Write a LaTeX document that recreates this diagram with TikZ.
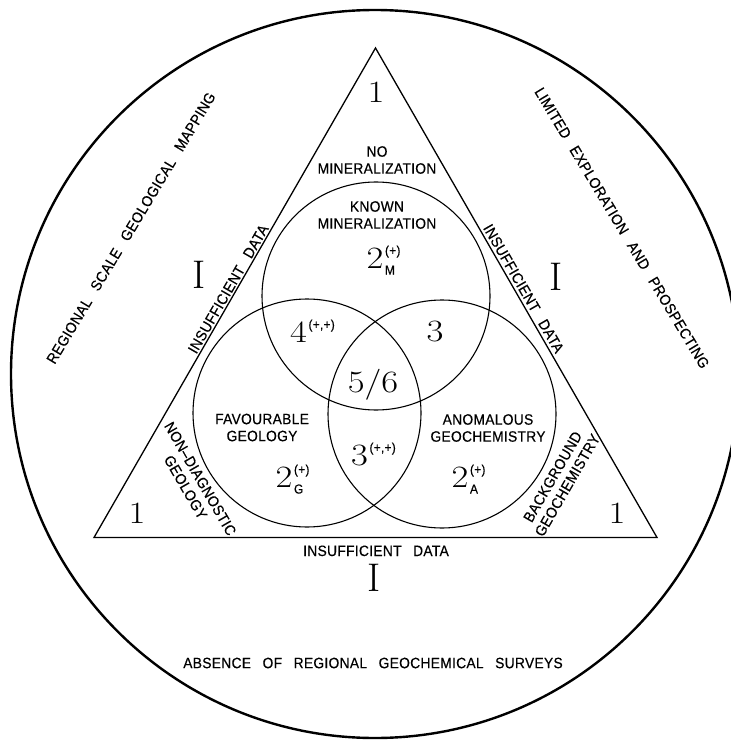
\documentclass[tikz,border=0pt]{standalone}
\usepackage{fontspec}
\usetikzlibrary{calc}
\newfontfamily\labfont{Liberation Sans}[LetterSpace=2,WordSpace=2.8,FakeStretch=0.92,FakeBold=0.4]
\newcommand\lbl{\labfont\fontsize{15}{17}\selectfont}
\newcommand\ssc{\labfont\fontsize{13}{13}\selectfont}
\newcommand\bignum{\rmfamily\fontsize{31}{31}\selectfont}
\newcommand\bigrom{\rmfamily\fontsize{40}{40}\selectfont}
\newcommand\widedig[1]{\scalebox{1.18}[1]{#1}}
\newcommand\numss[3]{\widedig{#1}\kern1.5pt\makebox[0pt][l]{\raisebox{13pt}{\ssc #2}}\makebox[0pt][l]{\raisebox{-6.5pt}{\ssc #3}}}
\begin{document}
\begin{tikzpicture}[x=1pt,y=-1pt,
  lab/.style={font=\lbl, align=center, inner sep=0pt},
  num/.style={font=\bignum, inner sep=0pt, anchor=base},
  rom/.style={font=\bigrom, inner sep=0pt, anchor=base},
  nss/.style={font=\bignum, inner sep=0pt, anchor=base west},
  venn/.style={line width=1.1pt}]
\useasboundingbox (0,0) rectangle (730,743);
% outer circle
\coordinate (O) at (375,374);
\draw[line width=2.4pt] (O) circle[radius=364pt];
% triangle
\coordinate (A) at (375.5,48);
\coordinate (B) at (94,537.5);
\coordinate (C) at (657,537.5);
\draw[line width=1.3pt, line join=miter] (A) -- (B) -- (C) -- cycle;
% venn circles
\coordinate (cM) at (376,296);
\coordinate (cG) at (307,413);
\coordinate (cA) at (442,414);
\draw[venn] (cM) circle[radius=114pt];
\draw[venn] (cG) circle[radius=114pt];
\draw[venn] (cA) circle[radius=114pt];
% numbers
\node[num] (oneT) at (376,103) {\widedig{1}};
\node[num] (oneL) at (137,523) {\widedig{1}};
\node[num] (oneR) at (617,523) {\widedig{1}};
\node[rom] (romL) at (199,288) {I};
\node[rom] (romR) at (556,290) {I};
\node[rom] (romB) at (374,591) {I};
\node[nss] (twoM) at (366.5,268) {\numss{2}{(+)}{M}};
\node[nss] (twoG) at (275.5,487) {\numss{2}{(+)}{G}};
\node[nss] (twoA) at (451.5,487) {\numss{2}{(+)}{A}};
\node[nss] (four) at (290,342) {\numss{4}{(+,+)}{}};
\node[nss] (threeB) at (351,465) {\numss{3}{(+,+)}{}};
\node[num] (threeT) at (435,341) {\widedig{3}};
\node[num] (fivesix) at (373,392) {\widedig{5/6}};
% labels
\node[lab] (nomin) at (377,160) {NO\\MINERALIZATION};
\node[lab] (known) at (377,215) {KNOWN\\MINERALIZATION};
\node[lab] (fav) at (262,427.5) {FAVOURABLE\\GEOLOGY};
\node[lab] (anom) at (488,428) {ANOMALOUS\\GEOCHEMISTRY};
\node[lab, rotate=-60] (nondiag) at (193,483) {NON–DIAGNOSTIC\\GEOLOGY};
\node[lab, rotate=60] (backg) at (560,481) {BACKGROUND\\GEOCHEMISTRY};
\node[lab, anchor=south, inner sep=2pt, rotate=60] (insL) at ($(B)!0.5!(A)$) {INSUFFICIENT DATA};
\node[lab, anchor=south, inner sep=3pt, rotate=-60] (insR) at ($(A)!0.5!(C)$) {INSUFFICIENT DATA};
\node[lab, anchor=base] (insB) at (376,556) {INSUFFICIENT DATA};
\node[lab, rotate=59] (regional) at (131,228) {REGIONAL SCALE GEOLOGICAL MAPPING};
\node[lab, rotate=-59] (limited) at (622,228) {LIMITED EXPLORATION AND PROSPECTING};
\node[lab] (absence) at (373,663) {ABSENCE OF REGIONAL GEOCHEMICAL SURVEYS};
\end{tikzpicture}
\end{document}
